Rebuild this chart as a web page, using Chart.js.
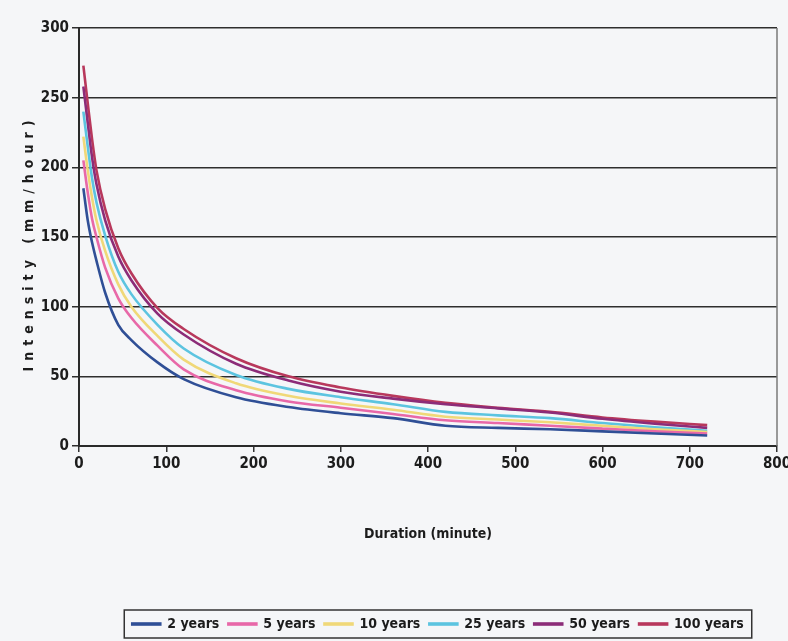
<!DOCTYPE html>
<html><head><meta charset="utf-8">
<script src="https://cdn.jsdelivr.net/npm/chart.js@4"></script>
<style>
html,body{margin:0;padding:0;background:#f5f6f8;}
#wrap{width:788px;height:641px;}
canvas{display:block;}
</style></head><body>
<div id="wrap"><canvas id="c" width="788" height="641"></canvas></div>
<script>
// ---- data ----
const durations = [5, 10, 15, 20, 30, 45, 60, 90, 120, 180, 240, 300, 360, 420, 480, 540, 600, 660, 720];
const years2   = [185, 162, 146, 133, 110, 87, 76, 60, 48, 35, 28, 23.5, 20, 14.5, 13, 12, 10.5, 9, 7.5];
const years5   = [205, 182, 163, 150, 128, 106, 92, 72, 55, 40, 32, 27.5, 23, 18.5, 16.5, 14.5, 12.5, 10.5, 9];
const years10  = [222, 198, 178, 162, 140, 116, 100, 79, 62, 45, 36, 30.5, 26, 21, 19, 17, 14.5, 12, 10];
const years25  = [240, 215, 192, 175, 151, 125, 109, 87, 70, 51, 41, 35, 30, 24.5, 22, 20, 16.5, 13.5, 11];
const years50  = [258, 232, 207, 188, 162, 136, 119, 95, 80, 59, 47, 39, 34, 30, 27, 24, 19.5, 16, 13];
const years100 = [273, 246, 220, 198, 170, 142, 124, 99, 84, 63, 50, 42, 36, 31, 27.5, 24.5, 20.5, 17.5, 15];
const seriesLabels = ['2 years', '5 years', '10 years', '25 years', '50 years', '100 years'];
const seriesValues = [years2, years5, years10, years25, years50, years100];
const seriesColors = ['#2f4f96', '#e868a8', '#f0d878', '#5cc4e0', '#8c2c78', '#b8385c'];
const xTickValues = [0, 100, 200, 300, 400, 500, 600, 700, 800];
const yTickValues = [0, 50, 100, 150, 200, 250, 300];
const xTitle = 'Duration (minute)';
const yTitle = 'Intensity (mm/hour)';

const FONT = "'DejaVu Sans Condensed', 'Liberation Sans Narrow', sans-serif";
const INK = '#1c1c1c';

// letter-spaced y-axis title, as in the reference
const LinearScale = Chart.registry.getScale('linear');
const origDrawTitle = LinearScale.prototype.drawTitle;
LinearScale.prototype.drawTitle = function () {
  if (this.id === 'y') {
    this.ctx.save();
    this.ctx.letterSpacing = '6px';
    this.ctx.translate(0, 6);
    origDrawTitle.call(this);
    this.ctx.restore();
  } else {
    origDrawTitle.call(this);
  }
};

const bgPlugin = {
  id: 'bg',
  beforeDraw(chart) {
    const ctx = chart.ctx;
    ctx.save();
    ctx.fillStyle = '#f5f6f8';
    ctx.fillRect(0, 0, chart.width, chart.height);
    ctx.restore();
  }
};
const legendShift = {
  id: 'legendShift',
  afterLayout(chart) {
    const lg = chart.legend;
    if (lg) { lg.left += 10; lg.right += 10; }
  }
};
const plotBorder = {
  id: 'plotBorder',
  afterDraw(chart) {
    const a = chart.chartArea, ctx = chart.ctx;
    ctx.save();
    ctx.strokeStyle = '#7a7a7a';
    ctx.lineWidth = 1.5;
    ctx.beginPath();
    ctx.moveTo(a.right, a.top);
    ctx.lineTo(a.right, a.bottom);
    ctx.stroke();
    ctx.restore();
  }
};
const legendBorder = {
  id: 'legendBorder',
  afterDraw(chart) {
    const lg = chart.legend;
    if (!lg || !lg.legendHitBoxes || !lg.legendHitBoxes.length) return;
    let l = Infinity, r = -Infinity, t = Infinity, b = -Infinity;
    lg.legendHitBoxes.forEach(h => {
      l = Math.min(l, h.left); r = Math.max(r, h.left + h.width);
      t = Math.min(t, h.top); b = Math.max(b, h.top + h.height);
    });
    const ctx = chart.ctx;
    ctx.save();
    ctx.strokeStyle = '#333';
    ctx.lineWidth = 1.5;
    ctx.strokeRect(l - 8, t - 7, r - l + 16, b - t + 14);
    ctx.restore();
  }
};

const datasets = seriesLabels.map((label, i) => ({
  label,
  data: durations.map((d, j) => ({ x: d, y: seriesValues[i][j] })),
  borderColor: seriesColors[i],
  backgroundColor: seriesColors[i],
  borderWidth: 2.6,
  pointRadius: 0,
  cubicInterpolationMode: 'monotone',
  fill: false
}));

new Chart(document.getElementById('c'), {
  type: 'line',
  data: { datasets },
  plugins: [bgPlugin, legendShift, plotBorder, legendBorder],
  options: {
    responsive: false,
    animation: false,
    devicePixelRatio: 1,
    layout: { padding: { top: 28, right: 11, left: 0, bottom: 0 } },
    plugins: {
      tooltip: { enabled: false },
      legend: {
        position: 'bottom',
        fullSize: false,
        labels: {
          color: INK,
          font: { family: FONT, size: 14, weight: 'bold' },
          boxWidth: 28,
          boxHeight: 1,
          padding: 9
        }
      }
    },
    scales: {
      x: {
        type: 'linear',
        min: 0, max: 800,
        afterBuildTicks(scale) { scale.ticks = xTickValues.map(v => ({ value: v })); },
        afterFit(scale) { scale.height = 162; scale.paddingRight = 0; scale.paddingLeft = 0; },
        ticks: {
          color: INK,
          font: { family: FONT, size: 15, weight: 'bold' },
          padding: 3,
          maxRotation: 0
        },
        grid: { drawOnChartArea: false, drawTicks: true, tickLength: 6, color: '#333', lineWidth: 1.5 },
        border: { display: true, color: '#2a2a2a', width: 2 },
        title: {
          display: true,
          text: xTitle,
          color: INK,
          font: { family: FONT, size: 14, weight: 'bold' },
          padding: { top: 0, bottom: 65 }
        }
      },
      y: {
        type: 'linear',
        min: 0, max: 300,
        afterBuildTicks(scale) { scale.ticks = yTickValues.map(v => ({ value: v })); },
        afterFit(scale) { scale.width = 79; },
        ticks: {
          color: INK,
          font: { family: FONT, size: 15, weight: 'bold' },
          padding: 3
        },
        grid: { color: '#2e2e2e', lineWidth: 1.5, tickLength: 7, drawTicks: true },
        border: { display: true, color: '#2a2a2a', width: 2 },
        title: {
          display: true,
          text: yTitle,
          color: INK,
          font: { family: FONT, size: 14, weight: 'bold' },
          padding: { top: 21, bottom: 0 }
        }
      }
    }
  }
});
</script>
</body></html>
